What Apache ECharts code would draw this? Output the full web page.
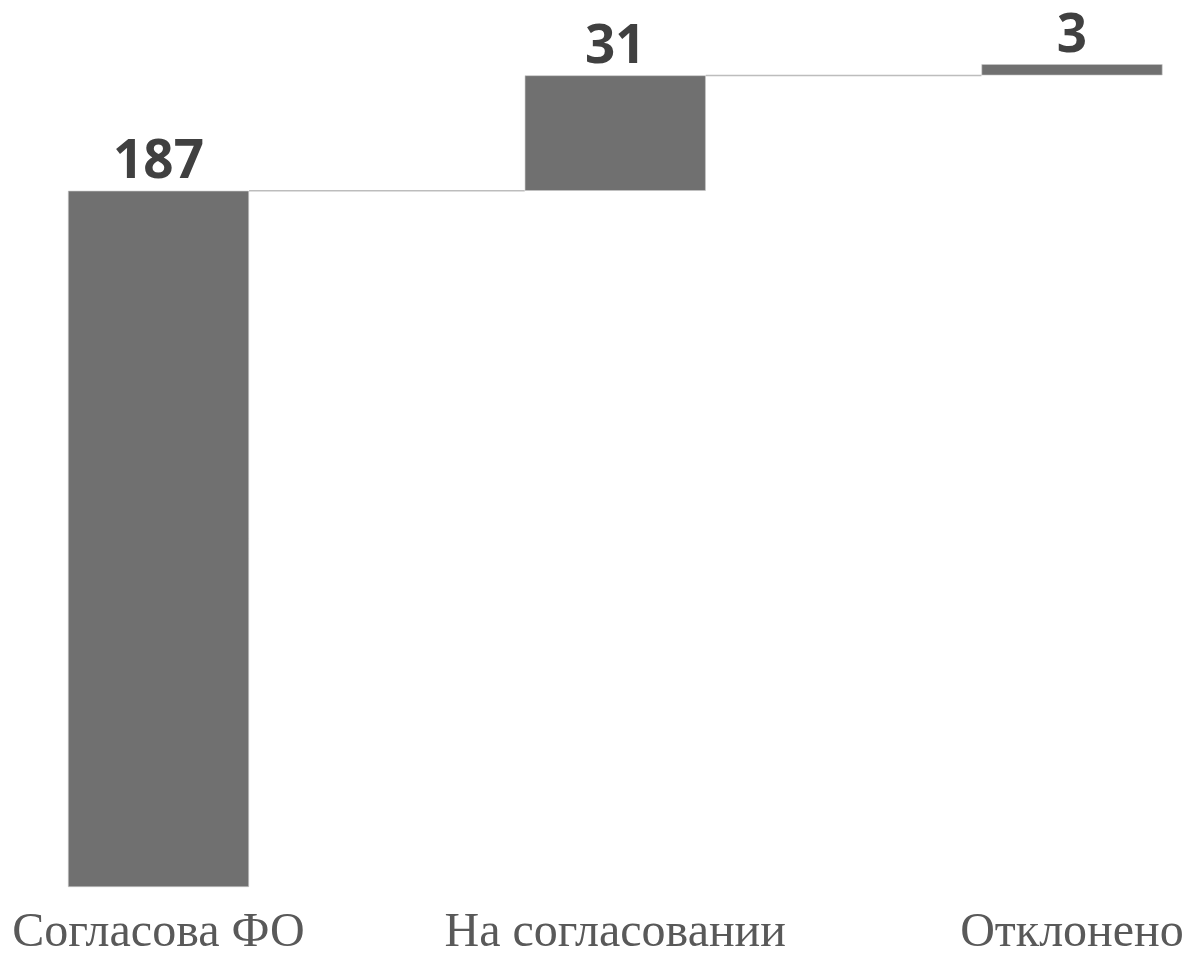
<!DOCTYPE html>
<html><head><meta charset="utf-8">
<script src="https://cdn.jsdelivr.net/npm/echarts@6/dist/echarts.min.js"></script>
<style>html,body{margin:0;padding:0;background:#fff}#c{width:1188px;height:957px}</style>
</head><body><div id="c"></div>
<script>
const categories = ['Согласова ФО', 'На согласовании', 'Отклонено'];
const values = [187, 31, 3];

const bases = [];
const ends = [];
let acc = 0;
values.forEach(v => { bases.push(acc); acc += v; ends.push(acc); });

const BAR_W = 181;
const chart = echarts.init(document.getElementById('c'));
chart.setOption({
  animation: false,
  backgroundColor: '#ffffff',
  grid: { left: 158.5, right: 116, top: 30.7, bottom: 69, containLabel: false },
  xAxis: {
    type: 'category', data: categories, boundaryGap: false,
    axisLine: { show: false }, axisTick: { show: false }, splitLine: { show: false },
    axisLabel: { interval: 0, margin: 22, fontFamily: 'Liberation Serif', fontSize: 48, color: '#595959' }
  },
  yAxis: { type: 'value', min: 0, max: 230, show: false, splitLine: { show: false } },
  series: [
    {
      type: 'custom', z: 1, clip: false,
      data: ends.slice(0, -1).map((e, i) => [i, e]),
      renderItem: function (params, api) {
        const i = api.value(0), v = api.value(1);
        const p1 = api.coord([i, v]);
        const p2 = api.coord([i + 1, v]);
        return {
          type: 'line',
          shape: { x1: p1[0] + BAR_W / 2, y1: p1[1], x2: p2[0] - BAR_W / 2, y2: p2[1] },
          style: { stroke: '#bdbdbd', lineWidth: 1.5 }
        };
      }
    },
    {
      type: 'bar', stack: 'w', data: bases, barWidth: BAR_W, clip: false,
      itemStyle: { color: 'transparent' }, silent: true, z: 2
    },
    {
      type: 'bar', stack: 'w', data: values, barWidth: BAR_W, z: 3, clip: false,
      itemStyle: { color: '#707070', borderColor: '#c8c8c8', borderWidth: 0.6 },
      label: {
        show: true, position: 'top', distance: 1,
        fontFamily: 'Open Sans', fontWeight: 'bold', fontSize: 53, color: '#404040'
      }
    }
  ]
});
</script></body></html>
